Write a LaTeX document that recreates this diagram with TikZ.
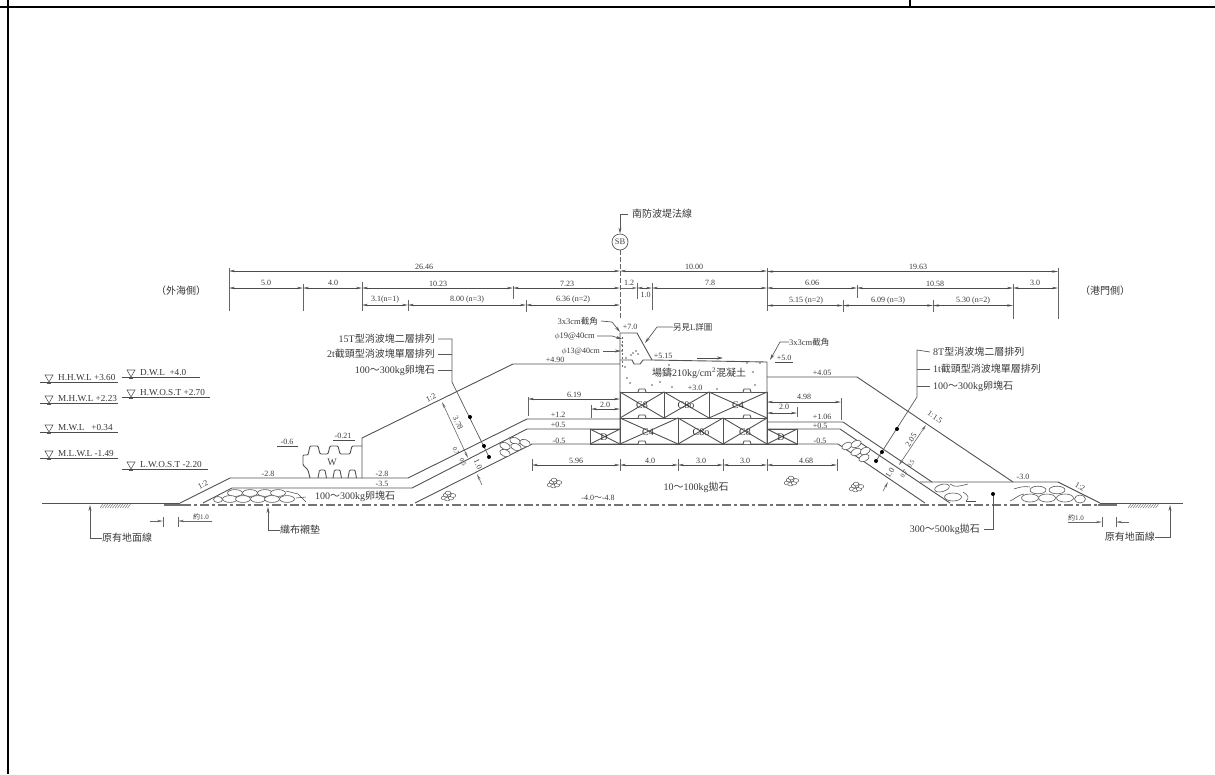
\documentclass[tikz,border=0pt]{standalone}
\usepackage{fontspec}
\setmainfont{Liberation Serif}
\newfontfamily\cjk{Noto Sans CJK TC}
\usetikzlibrary{arrows.meta}
\newcommand{\C}[1]{{\cjk #1}}
\newcommand{\tl}{\C{～}}
\tikzset{
  wall/.style={draw=black!68,line width=0.9pt,line join=round},
  thin line/.style={draw=black!70,line width=0.55pt},
  dimarrows/.style={draw=black!70,line width=0.6pt,{Stealth[length=6pt,width=2.4pt]}-{Stealth[length=6pt,width=2.4pt]}},
  ext/.style={draw=black!60,line width=0.6pt},
  leader/.style={draw=black!65,line width=0.7pt},
  leaderarrow/.style={leader,-{Stealth[length=6pt,width=3pt]}},
  dimtxt/.style={font=\fontsize{8}{8}\selectfont,text=black!78,inner sep=0pt},
  lvl/.style={font=\fontsize{9.2}{10}\selectfont,text=black!78,inner sep=0pt,anchor=south west},
  lbl/.style={font=\fontsize{10}{11}\selectfont,text=black!78,inner sep=0pt},
  frameline/.style={draw=black,line width=2pt},
  rock/.style={draw=black!65,line width=0.6pt,fill=white},
  dotmark/.style={fill=black,draw=none,circle,minimum size=4pt,inner sep=0pt},
  specks/.style={fill=black!65,draw=none}
}
\newcommand{\tri}[2]{\draw[black!65,line width=0.6pt] (#1-4,#2-7) -- (#1+4,#2-7) -- (#1,#2) -- cycle;
  \draw[black!65,line width=0.6pt] (#1-2,#2+1.5) -- (#1+2,#2+1.5);}
\newcommand{\waterlvl}[5]{% x1 x2 y trianglex text
  \draw[black!70,line width=0.8pt] (#1,#3) -- (#2,#3);
  \tri{#4}{#3}
  \node[lvl] at (#4+9,#3-1.5) {#5};}
\newcommand{\cluster}[2]{%
  \foreach \dx/\dy in {-5/1,-1.5/2,2/1,-3/-2,1/-2.2,-1/-4,4/-1.5}{
    \draw[rock,line width=0.5pt] (#1+\dx,#2+\dy) ellipse[x radius=2.8,y radius=1.9];}}
\newcommand{\hatching}[3]{%
  \foreach \i in {0,2.5,...,#2}{\draw[black!60,line width=0.45pt] (#1+\i,#3+4) -- (#1+\i+3,#3);}}
\newcommand{\rockov}[5]{\draw[rock,rotate around={#5:(#1,#2)}] (#1,#2) ellipse[x radius=#3,y radius=#4];}
\newcommand{\xcell}[4]{% x1 x2 y1 y2
  \draw[wall] (#1,#3) rectangle (#2,#4);
  \draw[wall] (#1,#3) -- (#2,#4);
  \draw[wall] (#2,#3) -- (#1,#4);}
\begin{document}
\begin{tikzpicture}[x=1pt,y=-1pt]
\useasboundingbox (0,0) rectangle (1215,774);
% frame
\draw[frameline] (0,6.5) -- (1215,6.5);
\draw[frameline] (7.5,0) -- (7.5,774);
\draw[frameline] (910,0) -- (910,6.5);

% centre line and SB
\node[lbl,anchor=west] (southline) at (632,214) {\C{南防波堤法線}};
\node[draw=black!65,circle,line width=0.7pt,minimum size=16pt,inner sep=0pt,font=\fontsize{8.5}{9}\selectfont,text=black!75] (sb) at (620,242) {SB};
\draw[leaderarrow] ([xshift=-4pt]southline.west) -- (620,214) -- (sb.north);
\draw[ext,dashed,dash pattern=on 5pt off 2pt] (sb.south) -- (620,319);

% dimension extension lines
\foreach \x/\a/\b in {229/268/311,303/284/311,362/282/311,513/286/299,408/300/311,526/300/312,
  767/268/311,857/285/298,843/300/312,933/300/312,1013/284/319,1058/268/319,637/283/299,652/283/310}{
  \draw[ext] (\x,\a) -- (\x,\b);}
% top dimensions
\foreach \a/\b/\y in {229/620/271,620/767/271,767/1058/271.5,
  229/303/288,303/362/288,362/513/288,513/620/288,637/652/288,652/767/288,767/857/288,857/1013/288,1013/1058/288,
  362/408/305,408/526/305,526/620/305,767/843/305.5,843/933/305.5,933/1013/305.5}{
  \draw[dimarrows] (\a,\y) -- (\b,\y);}
\draw[ext,-{Stealth[length=5pt,width=2.4pt]}] (620,288) -- (637,288);
\foreach \t/\x/\y in {26.46/424/266.5,5.0/266/283,4.0/333/283,10.23/438/283.5,7.23/567/283.5,
  {3.1(n=1)}/385/300,{8.00 (n=3)}/467/300,{6.36 (n=2)}/573/300,
  10.00/694/266.5,19.63/918/267,1.2/629/283,1.0/645.5/295,7.8/710/283,6.06/812/283,10.58/935/283.5,3.0/1035/283,
  {5.15 (n=2)}/806/300.5,{6.09 (n=3)}/888/300.5,{5.30 (n=2)}/973/300.5,
  6.19/574/395,2.0/605/405,5.96/576/460.5,4.0/650/460.5,3.0/701/460.5,3.0/745/460.5,4.68/806/460.5,
  4.98/804/397,2.0/784/407,
  +4.90/555/360,+7.0/630/327,+5.15/663/356,+3.0/695/388,+4.05/822/373,
  +1.2/558/415,+0.5/558/425,-0.5/559/441,+1.06/822/417,+0.5/820/426,-0.5/820/441,
  -0.6/287/442,-0.21/343/436,-2.8/268/474,-2.8/382/474,-3.5/382/484,-3.0/1023/477}{
  \node[dimtxt] at (\x,\y) {\t};}
\node[dimtxt] (pfive) at (784,358) {+5.0};
\draw[thin line] (775,362.5) -- (793,362.5);
\draw[thin line] (277,446) -- (298,446);
\draw[thin line] (333,440) -- (355,440);
\node[lbl,font=\fontsize{10}{10}\selectfont] (seaside) at (181,291) {\C{（外海側）}};
\node[lbl,font=\fontsize{10}{10}\selectfont] (harbourside) at (1105,291) {\C{（港門側）}};

% water levels
\waterlvl{40}{118}{382}{49}{H.H.W.L +3.60}
\waterlvl{40}{118}{403}{49}{M.H.W.L +2.23}
\waterlvl{40}{118}{432}{49}{M.W.L \ \ +0.34}
\waterlvl{40}{118}{458}{49}{M.L.W.L -1.49}
\waterlvl{122}{200}{377}{131}{D.W.L \ +4.0}
\waterlvl{122}{210}{397}{131}{H.W.O.S.T +2.70}
\waterlvl{122}{208}{469}{131}{L.W.O.S.T -2.20}

% ground
\draw[wall] (42,503) -- (180,503);
\draw[wall] (1100,503) -- (1183,503);
\draw[black!55,line width=1.3pt,dash pattern=on 9pt off 3pt on 3pt off 3pt] (164,505) -- (1117,505);
\draw[black!55,line width=1.3pt] (164,505) -- (182,505);
\draw[black!55,line width=1.3pt] (1098,505) -- (1117,505);
\hatching{100}{28}{504}
\hatching{1128}{28}{504}

% left armour outlines
\draw[wall] (180,503) -- (230,478) -- (408,478) -- (527,419) -- (620,419);
\draw[wall] (203,503) -- (232,488) -- (412,488) -- (527,429) -- (620,429);
\draw[wall] (415,503) -- (532,444) -- (620,444);
\draw[wall] (362,478) -- (362,438) -- (513,364) -- (620,364);

% W block
\draw[wall,rounded corners=1pt] (362,446) -- (352,446) -- (350,454) -- (340,454) -- (338,446) -- (330,446)
  -- (328,454) -- (320,454) -- (318,446) -- (310,446) -- (308,455) -- (303,455)
  -- (303,465) -- (308,470) -- (310,478);
\foreach \x in {318,333,348}{\draw[wall,rounded corners=1pt] (\x,478) -- (\x+1.5,470) -- (\x+7,470) -- (\x+8.5,478);}
\node[font=\fontsize{10}{10}\selectfont,text=black!75,inner sep=0pt] (wblock) at (332,462) {W};

% caisson and crown
\draw[wall] (620,444) -- (620,333) -- (637,333) -- (652,360) -- (767,362) -- (767,444) -- cycle;
\draw[wall] (620,392) -- (767,392);
\draw[wall] (620,360) -- (632,360) -- (634,364) -- (640,364) -- (643,360) -- (652,360);
\xcell{620}{664}{392}{418}
\xcell{664}{709}{392}{418}
\xcell{709}{767}{392}{418}
\xcell{620}{678}{418}{444}
\xcell{678}{723}{418}{444}
\xcell{723}{767}{418}{444}
\xcell{590}{620}{429}{444}
\xcell{767}{797}{429}{444}
\foreach \y in {392,418,444}{
  \draw[wall,fill=white] (638,\y) -- (639,\y-3) -- (645,\y-3) -- (646,\y);
  \draw[wall,fill=white] (743,\y) -- (744,\y-3) -- (750,\y-3) -- (751,\y);}
\foreach \t/\x/\y in {C8/642/405,C8o/686/405,C4/738/405,C4/648/432,C8o/701/432,C8/745/432,D/604/437,D/781/437}{
  \node[inner sep=0pt,text=black!80,font=\fontsize{10}{10}\selectfont] at (\x,\y) {\t};}
\node[lbl] (concrete) at (699,373) {\C{場鑄}210kg/cm\textsuperscript{2}\C{混凝土}};
\draw[ext,dashed,dash pattern=on 2pt off 2pt] (622.5,337) -- (622.5,367);
\foreach \x/\y in {625/367,627/378,630/383,652/385,660/382,672/387,669/365,753/372,755/385,717/389,747/363,760/363,633/353,636/351,631/355,638/354,626/358,622/345,622/351}{
  \fill[specks] (\x,\y) circle (0.9);}
% surface arrow
\draw[draw=black!70,line width=0.7pt,-{Stealth[length=6pt,width=3pt]}] (697,358) -- (723,358);

% right armour outlines
\draw[wall] (767,377) -- (857,377) -- (1013,482);
\draw[wall] (920,482) -- (1058,482) -- (1100,503);
\draw[wall] (767,422) -- (843,422) -- (932,482);
\draw[wall] (767,429) -- (840,429) -- (950,503);
\draw[wall] (767,444) -- (838,444) -- (925,503);

% rocks
\foreach \x in {235,250,265,278}{\rockov{\x}{493}{7.5}{3.4}{0}}
\foreach \x in {230,243,258,272,287}{\rockov{\x}{499}{7.5}{3.4}{0}}
\rockov{218}{499.5}{4.5}{3}{0}
\draw[thin line] (286,491) -- (298,494) -- (306,502);
\draw[thin line] (296,498) -- (306,497);
\rockov{505}{446}{5.5}{3.4}{-20}
\rockov{515}{441}{5.5}{3.4}{-20}
\rockov{525}{443}{5.5}{3.4}{-20}
\rockov{516}{447}{5.5}{3.4}{-20}
\rockov{505}{453}{5.5}{3.4}{-20}
\rockov{847}{446}{5.5}{3.4}{25}
\rockov{856}{444}{5.5}{3.4}{25}
\rockov{865}{451}{5.5}{3.4}{25}
\rockov{856}{452}{5.5}{3.4}{25}
\rockov{864}{458}{5.5}{3.4}{25}
\cluster{449}{497}
\cluster{555}{484}
\cluster{792}{482}
\cluster{857}{488}
\rockov{942}{488}{7.5}{3.6}{15}
\rockov{953}{497}{8.5}{4}{0}
\draw[thin line] (950,484) .. controls (955,488) and (960,486) .. (968,484);
\draw[thin line] (963,492) .. controls (968,495) and (970,498) .. (966,501);
\draw[thin line] (966,501) -- (976,501);
\foreach \x in {1038,1057}{\rockov{\x}{490}{8}{3.8}{0}}
\foreach \x in {1030,1047,1065}{\rockov{\x}{498}{8.5}{4}{0}}
\rockov{1080}{499}{5.5}{4}{0}
\draw[thin line] (1014,489) .. controls (1020,487) and (1024,486) .. (1030,487);
\draw[thin line] (1010,501) .. controls (1015,499) and (1018,495) .. (1024,494);

% material labels
\node[lbl,anchor=west] (armourleft) at (315,496) {100\tl 300kg\C{卵塊石}};
\node[lbl] (rockmid) at (696,487) {10\tl 100kg\C{拋石}};
\node[dimtxt] (bottomdepth) at (598,498) {-4.0\tl -4.8};

% left bracket labels
\node[lbl,anchor=east] (lA) at (435,339) {15T\C{型消波塊二層排列}};
\node[lbl,anchor=east] (lB) at (435,354) {2t\C{截頭型消波塊單層排列}};
\node[lbl,anchor=east] (lC) at (435,370) {100\tl 300kg\C{卵塊石}};
\coordinate (bendL) at (452,382);
\draw[leader] ([xshift=3pt]lA.east) -- (452,339) -- (bendL) -- (489,457);
\draw[leader] ([xshift=3pt]lB.east) -- (452,354);
\draw[leader] ([xshift=3pt]lC.east) -- (452,370);
\node[dotmark] (d1) at (470,417) {};
\node[dotmark] (d2) at (484,446) {};
\node[dotmark] (d3) at (489,457) {};
% left slope thickness
\draw[ext,{Stealth[length=6pt,width=2.4pt]}-{Stealth[length=6pt,width=2.4pt]}] (442,402) -- (468,458);
\draw[ext,{Stealth[length=6pt,width=2.4pt]}-] (477,474) -- (482,485);
\node[dimtxt,rotate=-65] at (458,423) {3.78};
\node[dimtxt,rotate=-65,font=\fontsize{6.5}{7}\selectfont] at (456,451) {0.7};
\node[dimtxt,rotate=-65,font=\fontsize{6.5}{7}\selectfont] at (463,462) {0.5};
\node[dimtxt,rotate=-65] at (478,464) {1.0};
\node[dimtxt,rotate=27] at (431,398) {1:2};
\node[dimtxt,rotate=27] (slopeA) at (203,485) {1:2};

% right bracket labels
\node[lbl,anchor=west] (rA) at (933,352) {8T\C{型消波塊二層排列}};
\node[lbl,anchor=west] (rB) at (933,369) {1t\C{截頭型消波塊單層排列}};
\node[lbl,anchor=west] (rC) at (933,386) {100\tl 300kg\C{卵塊石}};
\coordinate (bendR) at (917,397);
\draw[leader] ([xshift=-3pt]rA.west) -- (917,350) -- (bendR) -- (876,461);
\draw[leader] ([xshift=-3pt]rB.west) -- (917,369);
\draw[leader] ([xshift=-3pt]rC.west) -- (917,386);
\node[dotmark] (d4) at (897,429) {};
\node[dotmark] (d5) at (882,452) {};
\node[dotmark] (d6) at (876,461) {};
\draw[ext,{Stealth[length=6pt,width=2.4pt]}-{Stealth[length=6pt,width=2.4pt]}] (926,425) -- (899,465);
\draw[ext,{Stealth[length=6pt,width=2.4pt]}-] (888,482) -- (883,491);
\node[dimtxt,rotate=57] at (911,440) {2.05};
\node[dimtxt,rotate=57,font=\fontsize{6.5}{7}\selectfont] at (911,464) {0.5};
\node[dimtxt,rotate=57,font=\fontsize{6.5}{7}\selectfont] at (904,474) {0.7};
\node[dimtxt,rotate=57] at (890,473) {1.0};
\node[dimtxt,rotate=-34] at (935,417) {1:1.5};
\node[dimtxt,rotate=-30] (slopeB) at (1080,487) {1:2};

% interior dimensions
\draw[dimarrows] (528,399) -- (620,399);
\draw[ext] (528,397) -- (528,416);
\draw[dimarrows] (591,409) -- (620,409);
\draw[ext] (591,405) -- (591,418);
\draw[dimarrows] (767,402) -- (841,402);
\draw[ext] (841,398) -- (841,420);
\draw[dimarrows] (767,413) -- (797,413);
\draw[ext] (797,407) -- (797,417);
\foreach \a/\b in {532/620,620/678,678/723,723/767,767/837}{\draw[dimarrows] (\a,465) -- (\b,465);}
\foreach \x in {532,620,678,723,767,837}{\draw[ext] (\x,459) -- (\x,471);}

% crown labels
\node[lbl,font=\fontsize{8.5}{9}\selectfont,anchor=east] (cA) at (598,321) {3x3cm\C{截角}};
\draw[leaderarrow] ([xshift=3pt]cA.east) -- (612,322) -- (620,332);
\node[lbl,font=\fontsize{8.5}{9}\selectfont,anchor=east] (cB) at (595,336) {$\phi$19@40cm};
\draw[leaderarrow] ([xshift=2pt]cB.east) -- (612,336) -- (622,339);
\node[lbl,font=\fontsize{8}{9}\selectfont,anchor=east] (cC) at (600,351) {$\phi$13@40cm};
\draw[leaderarrow] ([xshift=3pt]cC.east) -- (621,351);
\node[lbl,font=\fontsize{8.5}{9}\selectfont,anchor=west] (cD) at (673,327) {\C{另見}L\C{詳圖}};
\draw[leaderarrow] (cD.west) -- (657,327) -- (645,343);
\node[lbl,font=\fontsize{8.5}{9}\selectfont,anchor=west] (cE) at (789,342) {3x3cm\C{截角}};
\draw[leaderarrow] (cE.west) -- (780,342) -- (770,360);

% bottom labels
\node[lbl,anchor=west] (groundL) at (102,538) {\C{原有地面線}};
\draw[leaderarrow] (groundL.west) -- (90,538) -- (90,505);
\node[lbl,anchor=east] (groundR) at (1155,537) {\C{原有地面線}};
\draw[leaderarrow] (groundR.east) -- (1170,537) -- (1170,505);
\node[lbl,anchor=west] (fabric) at (280,530) {\C{織布襯墊}};
\draw[leaderarrow] (fabric.west) -- (268,530) -- (268,507);
\node[lbl,anchor=east] (rockR) at (980,529) {300\tl 500kg\C{拋石}};
\node[dotmark] (d7) at (993,494) {};
\draw[leader] ([xshift=4pt]rockR.east) -- (993,529) -- (d7);
% about 1.0 marks
\node[dimtxt,anchor=south west,font=\fontsize{7}{8}\selectfont] (aboutL) at (193,520) {\C{約}1.0};
\node[dimtxt,anchor=south west,font=\fontsize{7}{8}\selectfont] (aboutR) at (1068,521) {\C{約}1.0};
\draw[ext] (163,517) -- (163,527);
\draw[ext] (178,517) -- (178,527);
\draw[ext,-{Stealth[length=6pt,width=2.4pt]}] (150,521) -- (163,521);
\draw[ext,-{Stealth[length=6pt,width=2.4pt]}] (212,521) -- (178,521);
\draw[ext] (1102,517) -- (1102,527);
\draw[ext] (1116,517) -- (1116,527);
\draw[ext,-{Stealth[length=6pt,width=2.4pt]}] (1068,522) -- (1102,522);
\draw[ext,-{Stealth[length=6pt,width=2.4pt]}] (1129,522) -- (1116,522);
\end{tikzpicture}
\end{document}
